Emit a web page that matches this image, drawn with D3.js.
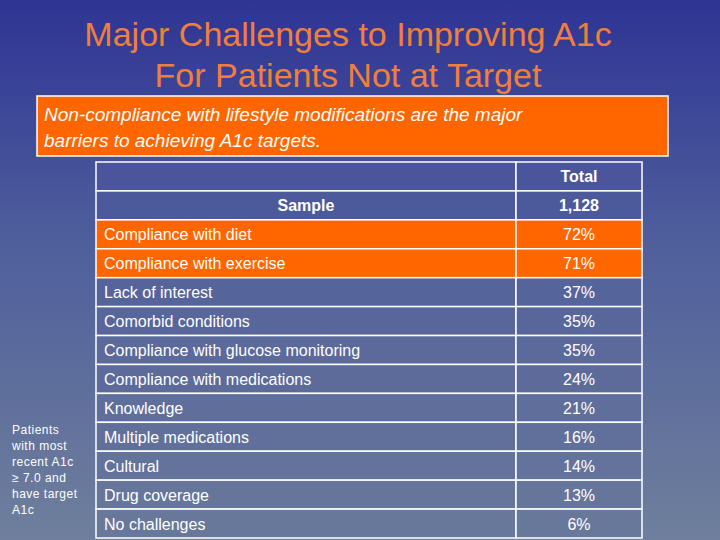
<!DOCTYPE html>
<html><head><meta charset="utf-8">
<script src="https://cdn.jsdelivr.net/npm/d3@7"></script>
<style>body{margin:0;}svg{display:block;font-family:"Liberation Sans",Arial,sans-serif;}</style>
</head><body>
<svg id="slide" width="720" height="540"></svg>
<script>
const challenges = ["Compliance with diet", "Compliance with exercise", "Lack of interest", "Comorbid conditions",
  "Compliance with glucose monitoring", "Compliance with medications", "Knowledge", "Multiple medications",
  "Cultural", "Drug coverage", "No challenges"];
const totals = [72, 71, 37, 35, 35, 24, 21, 16, 14, 13, 6];
const highlighted = ["Compliance with diet", "Compliance with exercise"];
const sampleSize = "1,128";

const svg = d3.select("#slide");
const defs = svg.append("defs");
const grad = defs.append("linearGradient").attr("id", "bg").attr("x1", 0).attr("y1", 0).attr("x2", 0).attr("y2", 1);
grad.append("stop").attr("offset", "0%").attr("stop-color", "#2e3494");
grad.append("stop").attr("offset", "45%").attr("stop-color", "#4f5f9c");
grad.append("stop").attr("offset", "100%").attr("stop-color", "#6f7f9c");
svg.append("rect").attr("width", 720).attr("height", 540).attr("fill", "url(#bg)");

// title
["Major Challenges to Improving A1c", "For Patients Not at Target"].forEach((t, i) => {
  svg.append("text").attr("x", 348).attr("y", 46 + i * 41).attr("text-anchor", "middle")
    .attr("font-size", 34).attr("fill", "#f07f3c").text(t);
});

// callout
svg.append("rect").attr("x", 37).attr("y", 96).attr("width", 631).attr("height", 60)
  .attr("fill", "#ff6600").attr("stroke", "#fff").attr("stroke-width", 1.5);
["Non-compliance with lifestyle modifications are the major", "barriers to achieving A1c targets."].forEach((t, i) => {
  svg.append("text").attr("x", 44).attr("y", 121 + i * 26).attr("font-size", 19)
    .attr("font-style", "italic").attr("fill", "#fff").text(t);
});

// side note
["Patients", "with most", "recent A1c", "\u2265 7.0 and", "have target", "A1c"].forEach((t, i) => {
  svg.append("text").attr("x", 12).attr("y", 434 + i * 16).attr("font-size", 12)
    .attr("fill", "#fff").attr("letter-spacing", 0.5).text(t);
});

// table
const x0 = 96, xSplit = 516, x1 = 642;
const rowKeys = ["header", "sample"].concat(challenges);
const y = d3.scaleBand().domain(rowKeys).range([162, 538]);
const g = svg.append("g");
const cell = (key, xa, xb, fill) => g.append("rect").attr("x", xa).attr("y", y(key))
  .attr("width", xb - xa).attr("height", y.bandwidth()).attr("fill", fill)
  .attr("stroke", "#fff").attr("stroke-width", 1.5);

const midY = k => y(k) + y.bandwidth() / 2 + 6;
cell("header", x0, xSplit, "#4a559c"); cell("header", xSplit, x1, "#4a559c");
g.append("text").attr("x", (xSplit + x1) / 2).attr("y", midY("header")).attr("text-anchor", "middle")
  .attr("font-size", 16).attr("font-weight", "bold").attr("fill", "#fff").text("Total");
cell("sample", x0, xSplit, "#4c5a9c"); cell("sample", xSplit, x1, "#4c5a9c");
g.append("text").attr("x", (x0 + xSplit) / 2).attr("y", midY("sample")).attr("text-anchor", "middle")
  .attr("font-size", 16).attr("font-weight", "bold").attr("fill", "#fff").text("Sample");
g.append("text").attr("x", (xSplit + x1) / 2).attr("y", midY("sample")).attr("text-anchor", "middle")
  .attr("font-size", 16).attr("font-weight", "bold").attr("fill", "#fff").text(sampleSize);

const shade = d3.scaleLinear().domain([y(challenges[0]), 538]).range(["#525f9c", "#6a7a9a"]);
challenges.forEach((c, i) => {
  const fill = highlighted.includes(c) ? "#ff6600" : shade(y(c));
  cell(c, x0, xSplit, fill); cell(c, xSplit, x1, fill);
  g.append("text").attr("x", x0 + 8).attr("y", midY(c)).attr("font-size", 16).attr("fill", "#fff").text(c);
  g.append("text").attr("x", (xSplit + x1) / 2).attr("y", midY(c)).attr("text-anchor", "middle")
    .attr("font-size", 16).attr("fill", "#fff").text(totals[i] + "%");
});
</script>
</body></html>
